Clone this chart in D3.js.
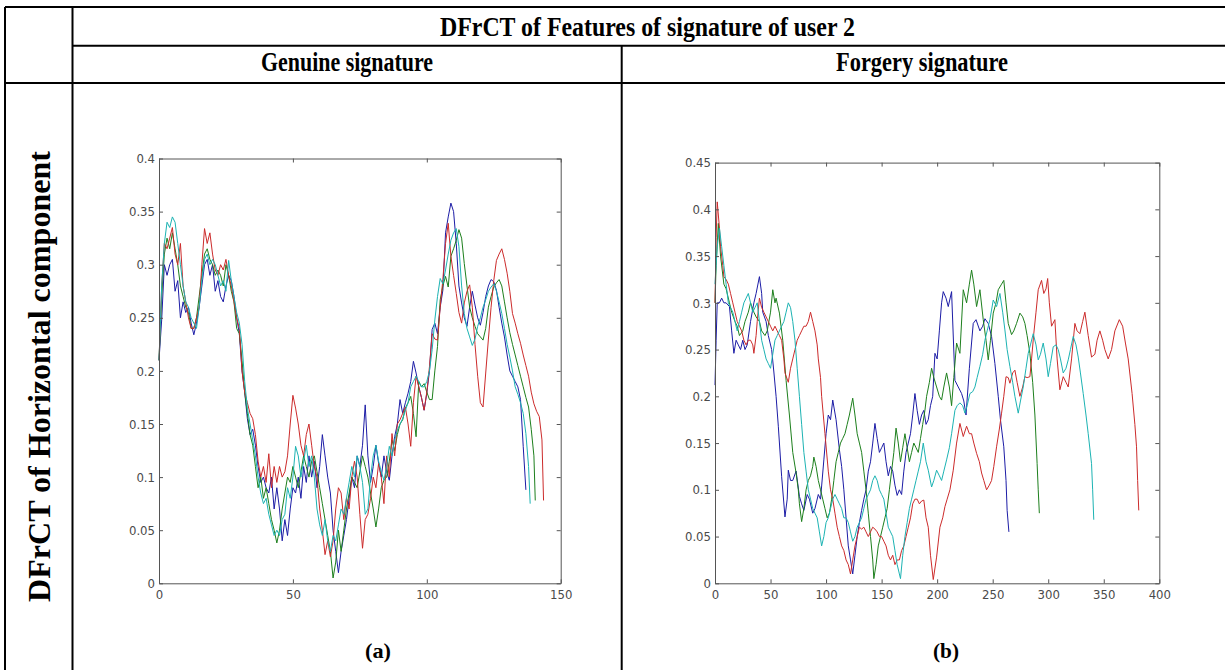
<!DOCTYPE html>
<html>
<head>
<meta charset="utf-8">
<script src="https://cdn.jsdelivr.net/npm/d3@7"></script>
<style>
  body { margin: 0; background: #fff; }
  .tbl { font-family: "Liberation Serif", "Times New Roman", serif; font-weight: bold; fill: #000; }
  .ax text { font-family: "Liberation Sans Narrow", "DejaVu Sans Condensed", "Liberation Sans", sans-serif; font-size: 13px; fill: #4a4a4a; }
  .ax path, .ax line { stroke: #555; }
</style>
</head>
<body>
<svg id="chart"></svg>
<script>
// genuine signature, user 2: DFrCT of horizontal component, [index, value]
var genuineBlue = [[0,0.21],[1,0.248],[2,0.30],[3,0.29],[4,0.30],[5,0.305],[6,0.275],[7,0.285],[8,0.25],[9,0.265],[10,0.255],[11,0.26],[12,0.245],[13,0.234],[14,0.245],[15,0.26],[16,0.28],[17,0.30],[18,0.305],[19,0.29],[20,0.30],[21,0.275],[22,0.285],[23,0.27],[24,0.265],[25,0.28],[26,0.29],[27,0.285],[28,0.27],[29,0.25],[30,0.235],[31,0.20],[32,0.18],[33,0.155],[34,0.14],[35,0.145],[36,0.13],[37,0.11],[38,0.095],[39,0.10],[40,0.09],[41,0.085],[42,0.10],[43,0.07],[44,0.09],[45,0.07],[46,0.04],[47,0.06],[48,0.045],[49,0.07],[50,0.09],[51,0.085],[52,0.10],[53,0.08],[54,0.11],[55,0.095],[56,0.12],[57,0.10],[58,0.115],[59,0.09],[60,0.11],[61,0.14],[62,0.12],[63,0.10],[64,0.085],[65,0.05],[66,0.03],[67,0.01],[68,0.03],[69,0.045],[70,0.06],[71,0.08],[72,0.10],[73,0.09],[74,0.12],[75,0.11],[76,0.13],[77,0.168],[78,0.12],[79,0.095],[80,0.11],[81,0.13],[82,0.113],[83,0.10],[84,0.12],[85,0.105],[86,0.097],[87,0.12],[88,0.138],[89,0.15],[90,0.173],[91,0.16],[92,0.17],[93,0.179],[94,0.19],[95,0.209],[96,0.198],[97,0.185],[98,0.175],[99,0.163],[100,0.179],[101,0.20],[102,0.239],[103,0.245],[104,0.235],[105,0.26],[106,0.276],[107,0.33],[108,0.345],[109,0.358],[110,0.35],[111,0.32],[112,0.28],[113,0.264],[114,0.25],[115,0.242],[116,0.26],[117,0.275],[118,0.262],[119,0.25],[120,0.243],[121,0.255],[122,0.27],[123,0.28],[124,0.286],[125,0.284],[126,0.276],[127,0.26],[128,0.245],[129,0.232],[130,0.215],[131,0.20],[132,0.195],[133,0.19],[134,0.185],[135,0.173],[136,0.129],[137,0.088]];
var genuineGreen = [[0,0.21],[1,0.27],[2,0.31],[3,0.325],[4,0.315],[5,0.33],[6,0.315],[7,0.30],[8,0.28],[9,0.27],[10,0.26],[11,0.255],[12,0.24],[13,0.24],[14,0.25],[15,0.27],[16,0.29],[17,0.31],[18,0.315],[19,0.305],[20,0.30],[21,0.29],[22,0.295],[23,0.29],[24,0.28],[25,0.30],[26,0.29],[27,0.275],[28,0.265],[29,0.24],[30,0.235],[31,0.21],[32,0.18],[33,0.16],[34,0.14],[35,0.13],[36,0.11],[37,0.09],[38,0.10],[39,0.08],[40,0.09],[41,0.075],[42,0.06],[43,0.05],[44,0.038],[45,0.05],[46,0.07],[47,0.085],[48,0.10],[49,0.095],[50,0.11],[51,0.10],[52,0.09],[53,0.105],[54,0.12],[55,0.11],[56,0.10],[57,0.115],[58,0.12],[59,0.105],[60,0.09],[61,0.075],[62,0.06],[63,0.045],[64,0.03],[65,0.005],[66,0.02],[67,0.05],[68,0.03],[69,0.05],[70,0.07],[71,0.085],[72,0.10],[73,0.095],[74,0.09],[75,0.105],[76,0.12],[77,0.11],[78,0.10],[79,0.085],[80,0.07],[81,0.053],[82,0.07],[83,0.09],[84,0.097],[85,0.10],[86,0.115],[87,0.135],[88,0.125],[89,0.14],[90,0.15],[91,0.154],[92,0.165],[93,0.17],[94,0.176],[95,0.16],[96,0.138],[97,0.19],[98,0.185],[99,0.188],[100,0.18],[101,0.173],[102,0.173],[103,0.20],[104,0.223],[105,0.267],[106,0.28],[107,0.289],[108,0.279],[109,0.308],[110,0.315],[111,0.323],[112,0.333],[113,0.325],[114,0.301],[115,0.28],[116,0.26],[117,0.25],[118,0.242],[119,0.235],[120,0.232],[121,0.229],[122,0.24],[123,0.26],[124,0.27],[125,0.279],[126,0.283],[127,0.286],[128,0.28],[129,0.265],[130,0.25],[131,0.236],[132,0.225],[133,0.215],[134,0.205],[135,0.195],[136,0.185],[137,0.175],[138,0.166],[139,0.145],[140,0.12],[140.5,0.078]];
var genuineRed = [[0,0.21],[1,0.28],[2,0.32],[3,0.315],[4,0.325],[5,0.335],[6,0.31],[7,0.30],[8,0.32],[9,0.28],[10,0.265],[11,0.25],[12,0.24],[13,0.24],[14,0.25],[15,0.26],[16,0.30],[17,0.334],[18,0.32],[19,0.33],[20,0.31],[21,0.295],[22,0.29],[23,0.30],[24,0.295],[25,0.305],[26,0.29],[27,0.28],[28,0.265],[29,0.25],[30,0.24],[31,0.20],[32,0.18],[33,0.17],[34,0.16],[35,0.155],[36,0.14],[37,0.115],[38,0.10],[39,0.11],[40,0.095],[41,0.122],[42,0.09],[43,0.11],[44,0.095],[45,0.11],[46,0.10],[47,0.105],[48,0.12],[49,0.15],[50,0.177],[51,0.165],[52,0.15],[53,0.13],[54,0.12],[55,0.14],[56,0.15],[57,0.13],[58,0.11],[59,0.10],[60,0.07],[61,0.05],[62,0.027],[63,0.04],[64,0.025],[65,0.04],[66,0.07],[67,0.09],[68,0.085],[69,0.06],[70,0.08],[71,0.07],[72,0.10],[73,0.115],[74,0.10],[75,0.065],[76,0.033],[77,0.06],[78,0.065],[79,0.08],[80,0.10],[81,0.09],[82,0.113],[83,0.10],[84,0.075],[85,0.12],[86,0.10],[87,0.141],[88,0.12],[89,0.15],[90,0.154],[91,0.16],[92,0.166],[93,0.15],[94,0.129],[95,0.17],[96,0.195],[97,0.185],[98,0.175],[99,0.163],[100,0.18],[101,0.204],[102,0.235],[103,0.23],[104,0.229],[105,0.26],[106,0.286],[107,0.32],[108,0.339],[109,0.308],[110,0.29],[111,0.273],[112,0.255],[113,0.245],[114,0.264],[115,0.275],[116,0.281],[117,0.26],[118,0.225],[119,0.195],[120,0.17],[121,0.166],[122,0.198],[123,0.23],[124,0.26],[125,0.285],[126,0.304],[127,0.31],[128,0.315],[129,0.305],[130,0.292],[131,0.275],[132,0.254],[133,0.245],[134,0.235],[135,0.226],[136,0.215],[137,0.205],[138,0.195],[139,0.18],[140,0.169],[141,0.162],[142,0.157],[143,0.135],[143.6,0.078]];
var genuineCyan = [[0,0.21],[1,0.28],[2,0.32],[3,0.34],[4,0.335],[5,0.345],[6,0.34],[7,0.32],[8,0.30],[9,0.28],[10,0.265],[11,0.26],[12,0.25],[13,0.245],[14,0.24],[15,0.26],[16,0.285],[17,0.305],[18,0.31],[19,0.30],[20,0.305],[21,0.30],[22,0.29],[23,0.28],[24,0.285],[25,0.275],[26,0.304],[27,0.285],[28,0.27],[29,0.255],[30,0.245],[31,0.225],[32,0.19],[33,0.165],[34,0.15],[35,0.135],[36,0.12],[37,0.10],[38,0.085],[39,0.075],[40,0.08],[41,0.065],[42,0.055],[43,0.045],[44,0.05],[45,0.045],[46,0.06],[47,0.065],[48,0.09],[49,0.08],[50,0.10],[51,0.129],[52,0.12],[53,0.10],[54,0.115],[55,0.13],[56,0.11],[57,0.12],[58,0.10],[59,0.07],[60,0.055],[61,0.045],[62,0.06],[63,0.04],[64,0.03],[65,0.045],[66,0.04],[67,0.055],[68,0.07],[69,0.065],[70,0.08],[71,0.095],[72,0.11],[73,0.10],[74,0.12],[75,0.11],[76,0.095],[77,0.065],[78,0.07],[79,0.10],[80,0.12],[81,0.13],[82,0.115],[83,0.105],[84,0.097],[85,0.11],[86,0.129],[87,0.12],[88,0.135],[89,0.144],[90,0.15],[91,0.155],[92,0.163],[93,0.17],[94,0.185],[95,0.19],[96,0.195],[97,0.19],[98,0.185],[99,0.185],[100,0.19],[101,0.20],[102,0.22],[103,0.248],[104,0.27],[105,0.287],[106,0.282],[107,0.295],[108,0.31],[109,0.323],[110,0.33],[111,0.334],[112,0.317],[113,0.28],[114,0.254],[115,0.24],[116,0.232],[117,0.224],[118,0.23],[119,0.242],[120,0.25],[121,0.26],[122,0.267],[123,0.275],[124,0.279],[125,0.282],[126,0.275],[127,0.265],[128,0.254],[129,0.24],[130,0.225],[131,0.213],[132,0.2],[133,0.185],[134,0.178],[135,0.17],[136,0.16],[137,0.141],[138,0.11],[138.6,0.075]];

// forgery signature
var forgeryBlue = [[0,0.212],[1,0.26],[2,0.30],[4,0.30],[6,0.305],[8,0.30],[10,0.30],[13,0.296],[15,0.27],[17,0.246],[19,0.26],[21,0.255],[23,0.25],[25,0.26],[27,0.25],[29,0.255],[32,0.28],[35,0.30],[37,0.31],[40,0.328],[42,0.31],[43,0.29],[46,0.28],[48,0.265],[51,0.25],[53,0.226],[55,0.20],[57,0.168],[60,0.114],[63,0.071],[65,0.09],[66,0.121],[68,0.11],[70,0.11],[73,0.12],[76,0.093],[78,0.085],[80,0.078],[83,0.095],[85,0.09],[88,0.075],[90,0.08],[93,0.095],[95,0.09],[98,0.132],[100,0.16],[102,0.18],[104,0.175],[106,0.196],[109,0.175],[112,0.143],[114,0.125],[116,0.10],[118,0.07],[120,0.04],[122,0.025],[124,0.01],[126,0.03],[128,0.05],[130,0.065],[132,0.078],[134,0.09],[136,0.10],[138,0.12],[140,0.13],[142,0.15],[144,0.171],[146,0.155],[148,0.14],[150,0.145],[152,0.15],[154,0.13],[156,0.115],[158,0.125],[160,0.12],[162,0.105],[164,0.094],[166,0.10],[168,0.095],[170,0.12],[172,0.14],[174,0.15],[176,0.16],[178,0.18],[180,0.203],[182,0.185],[184,0.17],[186,0.18],[188,0.185],[190,0.17],[192,0.175],[194,0.19],[196,0.2],[198,0.246],[200,0.24],[202,0.27],[204,0.30],[205.5,0.312],[208,0.305],[210,0.296],[213,0.312],[216,0.217],[219,0.21],[222,0.203],[224,0.195],[226,0.18],[229,0.23],[232.5,0.278],[235,0.282],[238.5,0.27],[241,0.275],[243,0.283],[246,0.278],[249,0.264],[252,0.235],[255,0.20],[257,0.175],[260,0.146],[262,0.11],[263,0.078],[264.6,0.055]];
var forgeryGreen = [[0,0.30],[1,0.34],[3,0.385],[5,0.35],[8,0.32],[10,0.315],[13,0.30],[15,0.29],[18,0.28],[20,0.275],[22,0.265],[25,0.27],[27,0.28],[30,0.29],[32,0.30],[35,0.29],[37,0.285],[40,0.28],[42,0.27],[45,0.265],[47,0.27],[50,0.29],[52,0.314],[54,0.30],[55,0.305],[58,0.289],[61,0.26],[64,0.217],[67,0.18],[70,0.14],[73,0.118],[75,0.10],[76,0.085],[78,0.066],[80,0.08],[82,0.10],[84,0.11],[86,0.115],[88,0.125],[89,0.135],[91,0.125],[93,0.11],[95,0.10],[97,0.09],[99,0.08],[101,0.07],[103,0.075],[105,0.09],[107,0.11],[109,0.13],[111,0.14],[113,0.15],[115,0.155],[117,0.16],[119,0.17],[121,0.18],[124,0.198],[126,0.18],[128,0.16],[130,0.15],[132,0.14],[134,0.12],[136,0.10],[138,0.075],[140,0.05],[142,0.025],[143,0.005],[145,0.02],[147,0.04],[149,0.05],[151,0.06],[153,0.07],[155,0.08],[157,0.10],[159,0.12],[161,0.14],[163,0.166],[165,0.15],[167,0.13],[169,0.145],[171,0.16],[173,0.145],[175,0.13],[177,0.14],[179,0.15],[181,0.145],[183,0.14],[185,0.155],[187,0.17],[189,0.185],[190.5,0.2],[193,0.215],[195,0.23],[197,0.22],[199.5,0.21],[202,0.2],[204,0.196],[206,0.21],[208.5,0.225],[211,0.21],[213,0.19],[215,0.22],[217.5,0.257],[220.5,0.246],[223.5,0.314],[226.5,0.30],[229,0.32],[231,0.335],[233,0.32],[235.5,0.296],[238.5,0.314],[241.5,0.282],[244,0.26],[246,0.239],[248,0.26],[250.5,0.289],[253,0.30],[255,0.314],[258,0.32],[260,0.324],[262,0.30],[264,0.278],[267,0.266],[269,0.27],[271.5,0.278],[274.5,0.289],[277,0.285],[279,0.278],[281,0.265],[283.5,0.246],[286,0.215],[288,0.18],[290,0.128],[291,0.10],[292,0.075]];
var forgeryRed = [[0,0.30],[1,0.37],[2,0.408],[4,0.38],[5,0.36],[7,0.34],[8,0.328],[10,0.325],[12,0.32],[14,0.31],[16,0.30],[18,0.29],[20,0.28],[22,0.275],[24,0.27],[26,0.26],[28,0.255],[30,0.26],[32,0.26],[34,0.255],[35,0.246],[37,0.265],[38,0.28],[40,0.305],[42,0.295],[44,0.29],[46,0.285],[48,0.28],[50,0.275],[52,0.27],[54,0.275],[56,0.27],[58,0.265],[60,0.26],[62,0.24],[63,0.225],[66,0.215],[68,0.23],[70,0.24],[72,0.25],[74,0.26],[76,0.265],[78,0.27],[80,0.275],[82,0.275],[84,0.28],[86,0.29],[88,0.28],[90,0.27],[92,0.255],[93,0.24],[95,0.22],[96,0.2],[99,0.16],[102,0.12],[104,0.10],[106,0.09],[108,0.075],[110,0.06],[112,0.05],[114,0.04],[116,0.035],[118,0.025],[120,0.02],[122,0.01],[124,0.025],[126,0.04],[128,0.05],[130,0.06],[132,0.058],[134,0.06],[136,0.055],[138,0.05],[140,0.055],[142,0.06],[144,0.058],[146,0.055],[148,0.05],[150,0.05],[152,0.045],[154,0.04],[156,0.03],[158,0.025],[160,0.03],[162,0.02],[164,0.025],[166,0.025],[168,0.035],[170,0.04],[172,0.05],[174,0.06],[176,0.07],[178,0.085],[180,0.09],[182,0.09],[184,0.085],[186,0.088],[188,0.089],[190,0.07],[192,0.06],[194,0.03],[196.5,0.004],[199.5,0.028],[202.5,0.06],[205,0.07],[207,0.082],[209,0.09],[211.5,0.10],[214.5,0.121],[217.5,0.15],[220.5,0.171],[223.5,0.157],[226.5,0.168],[229,0.16],[231,0.16],[233,0.15],[235.5,0.139],[238,0.13],[240,0.118],[242,0.11],[244.5,0.10],[247,0.105],[249,0.11],[251,0.125],[253.5,0.146],[256,0.165],[258,0.182],[260,0.2],[262,0.221],[264,0.22],[265.5,0.214],[268,0.225],[270,0.228],[272,0.215],[274.5,0.2],[277,0.21],[279,0.221],[281,0.22],[283.5,0.221],[285,0.24],[287,0.267],[289,0.29],[291,0.314],[294,0.324],[296,0.31],[298,0.315],[299.5,0.326],[301,0.30],[303,0.275],[306,0.282],[308,0.24],[310.5,0.207],[313.5,0.221],[316,0.215],[318,0.21],[321,0.24],[324,0.278],[326,0.27],[328.5,0.267],[331,0.28],[333,0.29],[336,0.265],[339,0.242],[342,0.245],[344,0.26],[346.5,0.27],[349,0.26],[351,0.25],[354,0.24],[357,0.25],[360,0.27],[364,0.282],[367,0.275],[369.5,0.257],[372,0.24],[375.5,0.203],[378,0.17],[379.5,0.146],[380.5,0.11],[381.5,0.078]];
var forgeryCyan = [[0,0.32],[2,0.36],[4,0.38],[6,0.36],[8,0.34],[10,0.32],[12,0.30],[14,0.295],[16,0.29],[18,0.28],[20,0.27],[22,0.28],[24,0.29],[26,0.30],[28,0.305],[30,0.31],[32,0.30],[34,0.29],[36,0.295],[38,0.30],[40,0.28],[42,0.26],[44,0.25],[46,0.24],[48,0.235],[50,0.23],[52,0.245],[54,0.26],[56,0.265],[58,0.27],[60,0.275],[62,0.28],[64,0.29],[66,0.30],[68,0.295],[70,0.28],[72,0.26],[74,0.23],[76,0.20],[78,0.17],[80,0.14],[82,0.12],[84,0.10],[86,0.09],[88,0.08],[90,0.075],[92,0.07],[94,0.055],[96,0.04],[98,0.05],[100,0.065],[102,0.07],[104,0.08],[106,0.09],[108,0.095],[110,0.09],[112,0.085],[114,0.08],[116,0.07],[118,0.07],[120,0.065],[122,0.055],[124,0.045],[126,0.05],[128,0.06],[130,0.065],[132,0.07],[134,0.08],[136,0.09],[138,0.095],[140,0.10],[142,0.11],[144,0.115],[146,0.11],[148,0.10],[150,0.095],[152,0.09],[154,0.075],[156,0.06],[158,0.055],[160,0.05],[162,0.035],[164,0.02],[166,0.01],[167,0.005],[169,0.03],[171,0.05],[173,0.065],[175,0.08],[177,0.09],[179,0.10],[181,0.11],[183,0.12],[185,0.13],[187.5,0.15],[190,0.13],[192,0.121],[195,0.103],[197,0.11],[199.5,0.121],[202,0.115],[204,0.11],[206,0.12],[208.5,0.132],[211,0.145],[213,0.16],[216,0.185],[218,0.19],[220.5,0.193],[223,0.19],[225,0.182],[227,0.19],[229.5,0.203],[232,0.205],[234,0.21],[236,0.22],[238.5,0.232],[241,0.245],[243,0.26],[245,0.27],[247.5,0.282],[250.5,0.303],[253.5,0.296],[256.5,0.31],[259,0.29],[261,0.271],[263,0.25],[265.5,0.232],[268,0.215],[270,0.2],[273,0.182],[275,0.195],[277.5,0.21],[280,0.23],[282,0.246],[284,0.255],[286.5,0.267],[289,0.255],[291,0.239],[293,0.245],[295.5,0.257],[298,0.24],[300,0.221],[302,0.235],[304.5,0.253],[307,0.255],[309,0.25],[311,0.24],[313.5,0.225],[316,0.23],[318,0.239],[320,0.25],[322.5,0.264],[325,0.255],[327,0.242],[329,0.225],[331.5,0.203],[334,0.18],[336,0.16],[339,0.128],[340,0.10],[341,0.068]];

var genuineXTicks = [0, 50, 100, 150];
var genuineYTicks = [0, 0.05, 0.1, 0.15, 0.2, 0.25, 0.3, 0.35, 0.4];
var forgeryXTicks = [0, 50, 100, 150, 200, 250, 300, 350, 400];
var forgeryYTicks = [0, 0.05, 0.1, 0.15, 0.2, 0.25, 0.3, 0.35, 0.4, 0.45];

var headerTitle = "DFrCT of Features of signature of user 2";
var columnTitles = ["Genuine signature", "Forgery signature"];
var rowTitle = "DFrCT of Horizontal component";
var panelLabels = ["(a)", "(b)"];

var lineColors = ["#1c1ca6", "#1d7f1d", "#cc2b2b", "#1cb3b3"];

const svgWidth = 1225,
    svgHeight = 670;

var svg = d3.select("#chart")
    .attr("width", svgWidth)
    .attr("height", svgHeight);

// table grid
var grid = svg.append("g")
    .attr("stroke", "#000")
    .attr("stroke-width", 2);
var gridLines = [
    [5, 7, 1225, 7],
    [5, 7, 5, 670],
    [72.5, 7, 72.5, 670],
    [72.5, 45.7, 1225, 45.7],
    [5, 83, 1225, 83],
    [621.7, 45.7, 621.7, 670]
];
grid.selectAll("line")
    .data(gridLines)
    .enter()
    .append("line")
    .attr("x1", d => d[0]).attr("y1", d => d[1])
    .attr("x2", d => d[2]).attr("y2", d => d[3]);

svg.append("text")
    .attr("class", "tbl")
    .attr("x", 647.5).attr("y", 36)
    .attr("text-anchor", "middle")
    .attr("font-size", 27)
    .attr("textLength", 415)
    .attr("lengthAdjust", "spacingAndGlyphs")
    .text(headerTitle);

svg.selectAll(".coltitle")
    .data(columnTitles)
    .enter()
    .append("text")
    .attr("class", "tbl coltitle")
    .attr("x", (d, i) => i == 0 ? 347 : 922)
    .attr("y", 71)
    .attr("text-anchor", "middle")
    .attr("font-size", 27)
    .attr("textLength", 172)
    .attr("lengthAdjust", "spacingAndGlyphs")
    .text(d => d);

svg.append("text")
    .attr("class", "tbl")
    .attr("transform", "translate(50,376.5) rotate(-90)")
    .attr("text-anchor", "middle")
    .attr("font-size", 32)
    .attr("textLength", 451)
    .attr("lengthAdjust", "spacingAndGlyphs")
    .text(rowTitle);

svg.selectAll(".plabel")
    .data(panelLabels)
    .enter()
    .append("text")
    .attr("class", "tbl plabel")
    .attr("x", (d, i) => i == 0 ? 378 : 946)
    .attr("y", 658)
    .attr("text-anchor", "middle")
    .attr("font-size", 22)
    .attr("textLength", 26)
    .attr("lengthAdjust", "spacingAndGlyphs")
    .text(d => d);

var fmt = d => String(+d.toFixed(2));

function drawPanel(series, xDomain, yDomain, xRange, yRange, xTicks, yTicks) {
    var x = d3.scaleLinear().domain(xDomain).range(xRange);
    var y = d3.scaleLinear().domain(yDomain).range(yRange);
    var g = svg.append("g");

    var line = d3.line()
        .x(d => x(d[0]))
        .y(d => y(d[1]));

    g.selectAll(".series")
        .data(series)
        .enter()
        .append("path")
        .attr("fill", "none")
        .attr("stroke", (d, i) => lineColors[i])
        .attr("stroke-width", 1)
        .attr("stroke-linejoin", "round")
        .attr("d", line);

    g.append("g").attr("class", "ax")
        .attr("transform", "translate(0," + yRange[0] + ")")
        .call(d3.axisBottom(x).tickValues(xTicks).tickFormat(fmt).tickSizeInner(-4).tickSizeOuter(0).tickPadding(6));
    g.append("g").attr("class", "ax")
        .attr("transform", "translate(0," + yRange[1] + ")")
        .call(d3.axisTop(x).tickValues(xTicks).tickFormat("").tickSizeInner(-4).tickSizeOuter(0));
    g.append("g").attr("class", "ax")
        .attr("transform", "translate(" + xRange[0] + ",0)")
        .call(d3.axisLeft(y).tickValues(yTicks).tickFormat(fmt).tickSizeInner(-4).tickSizeOuter(0).tickPadding(4));
    g.append("g").attr("class", "ax")
        .attr("transform", "translate(" + xRange[1] + ",0)")
        .call(d3.axisRight(y).tickValues(yTicks).tickFormat("").tickSizeInner(-4).tickSizeOuter(0));
}

drawPanel([genuineBlue, genuineGreen, genuineRed, genuineCyan],
    [0, 150], [0, 0.4], [159, 560.7], [583.3, 158.5], genuineXTicks, genuineYTicks);
drawPanel([forgeryBlue, forgeryGreen, forgeryRed, forgeryCyan],
    [0, 400], [0, 0.45], [715, 1159.3], [583.3, 162.6], forgeryXTicks, forgeryYTicks);
</script>
</body>
</html>
